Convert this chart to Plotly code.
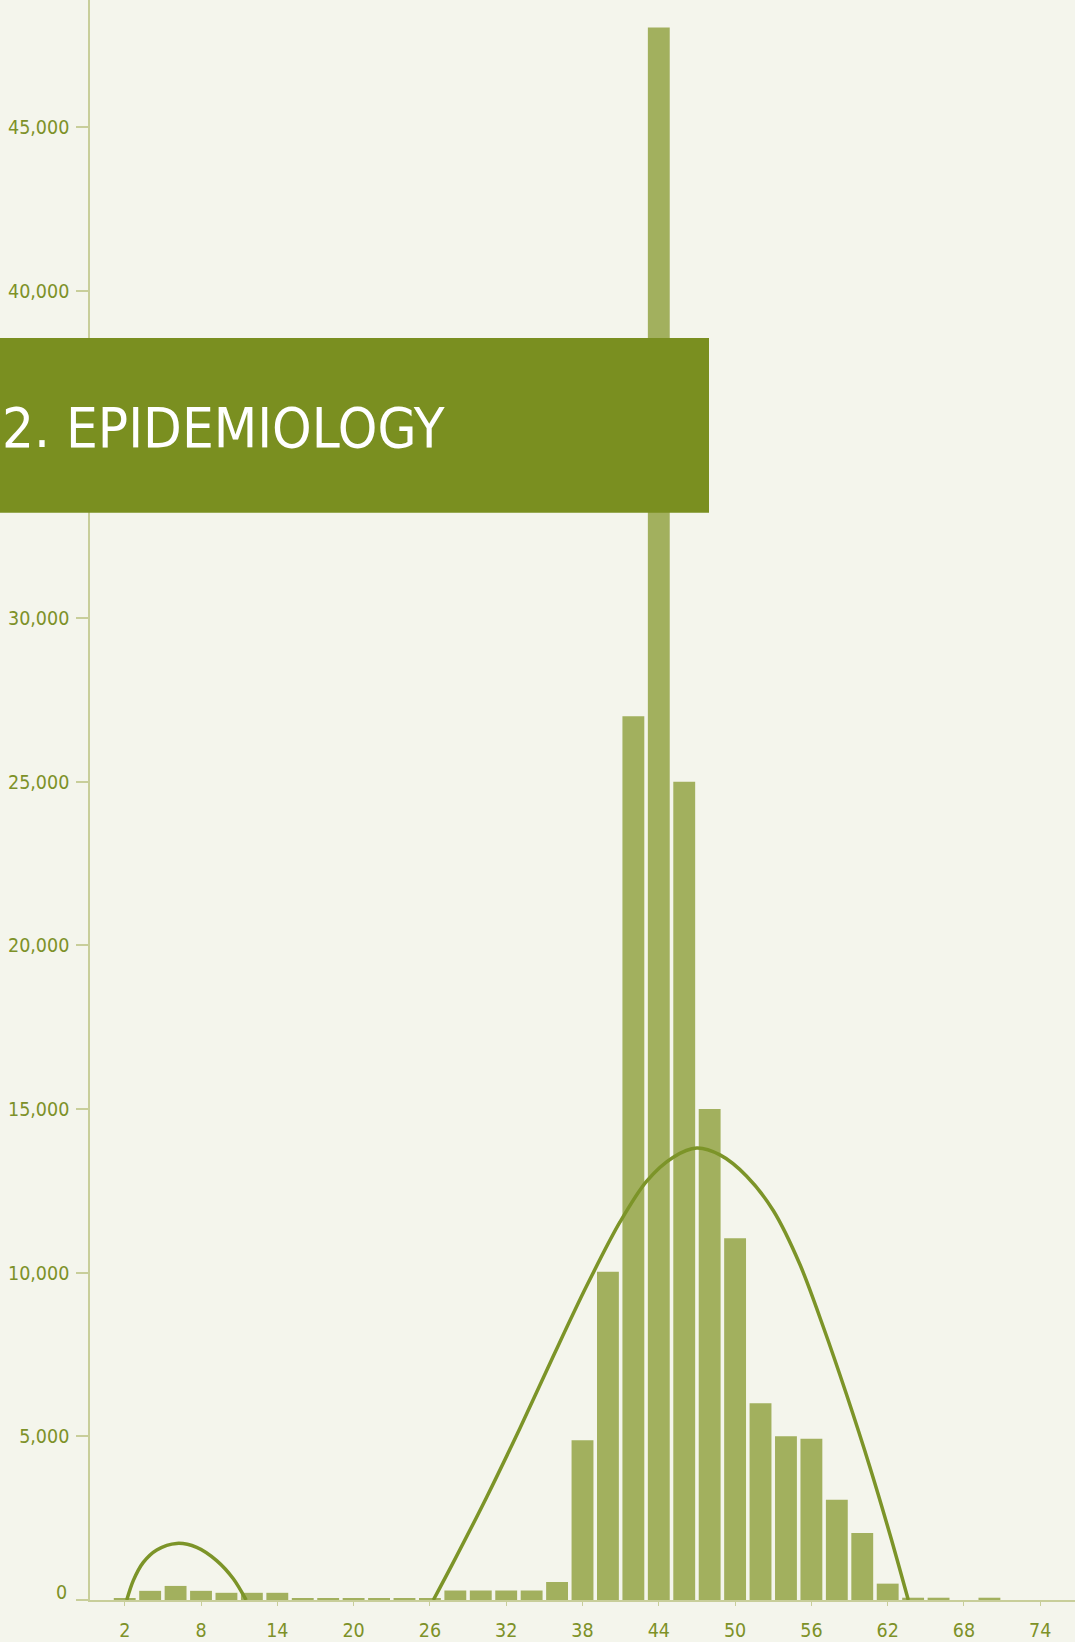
import plotly.graph_objects as go

# ---- data ----
bar_x = [2, 4, 6, 8, 10, 12, 14, 16, 18, 20, 22, 24, 26, 28, 30, 32, 34, 36,
         38, 40, 42, 44, 46, 48, 50, 52, 54, 56, 58, 60, 62, 64, 66, 68, 70]
bar_y = [60, 280, 430, 280, 220, 220, 220, 60, 60, 60, 60, 60, 60, 290, 290, 290, 290, 550,
         4880, 10030, 27000, 48050, 25000, 15000, 11050, 6010, 5000, 4930, 3060, 2050, 500, 70, 70, 0, 70]

curve1_x = [2.16, 2.68, 3.46, 4.52, 6.09, 7.66, 9.23, 10.54, 11.55]
curve1_y = [0, 600, 1150, 1530, 1730, 1610, 1205, 650, 0]

curve2_x = [26.27, 27.84, 30.47, 33.08, 35.70, 38.33, 40.95, 43.05, 45.14, 46.98,
            48.81, 50.91, 53.0, 55.1, 56.93, 58.77, 60.61, 62.18, 63.62]
curve2_y = [0, 1150, 3150, 5250, 7450, 9600, 11550, 12800, 13530, 13810,
            13600, 12950, 11900, 10250, 8350, 6270, 4050, 2000, 0]

x_ticks = [2, 8, 14, 20, 26, 32, 38, 44, 50, 56, 62, 68, 74]
# the 35,000 label is hidden behind the banner in the reference
y_ticks = [0, 5000, 10000, 15000, 20000, 25000, 30000, 40000, 45000]
y_ticktext = ["" if v == 0 else f"{v:,}" for v in y_ticks]

title_text = "2. EPIDEMIOLOGY"

# ---- styles ----
BG = "#f4f5ec"
BAR = "#a2b05e"
LINE = "#7c9428"
AXIS = "#c8ce9a"
LABEL = "#7d9128"
BANNER = "#7a8f20"
TICKFONT = dict(family="Liberation Sans Narrow, DejaVu Sans Condensed, Arial Narrow, sans-serif",
                size=19.5, color=LABEL)

W, H = 1075, 1642
ML, MR, MT, MB = 90, 0, 0, 32
PW, PH = W - ML - MR, H - MT - MB

fig = go.Figure()
fig.add_trace(go.Bar(x=bar_x, y=bar_y, width=1.72, marker=dict(color=BAR, line=dict(width=0)),
                     showlegend=False, hoverinfo="x+y"))
for cx, cy in ((curve1_x, curve1_y), (curve2_x, curve2_y)):
    fig.add_trace(go.Scatter(x=cx, y=cy, mode="lines",
                             line=dict(color=LINE, width=3.5, shape="spline", smoothing=0.9),
                             showlegend=False))

fig.update_layout(
    width=W, height=H,
    margin=dict(l=ML, r=MR, t=MT, b=MB, pad=0),
    paper_bgcolor=BG, plot_bgcolor=BG,
    xaxis=dict(range=[-0.73, 76.73], tickvals=x_ticks, ticktext=[str(v) for v in x_ticks],
               showgrid=False, zeroline=False, showline=True, linecolor=AXIS, linewidth=1.5,
               ticks="outside", ticklen=4, tickcolor=AXIS, tickwidth=1,
               tickfont=TICKFONT, ticklabelstandoff=8),
    yaxis=dict(range=[0, 48888], tickvals=y_ticks, ticktext=y_ticktext,
               showgrid=False, zeroline=False, showline=True, linecolor=AXIS, linewidth=1.5,
               ticks="outside", ticklen=12, tickcolor=AXIS, tickwidth=1.5,
               tickfont=TICKFONT, ticklabelstandoff=3),
    shapes=[dict(type="rect", xref="paper", yref="paper",
                 x0=-ML / PW, x1=(709 - ML) / PW,
                 y0=1 - 516 / PH, y1=1 - 340 / PH,
                 fillcolor=BANNER, line=dict(width=0), layer="above")],
    annotations=[
        dict(text=title_text, xref="paper", yref="paper", x=-ML / PW, y=1 - 430 / PH,
             xanchor="left", yanchor="middle", showarrow=False,
             font=dict(family="DejaVu Sans Condensed, DejaVu Sans Mono, sans-serif", size=56, color="white")),
        dict(text="0", xref="paper", yref="y", x=-21 / PW, y=220,
             xanchor="right", yanchor="middle", showarrow=False, font=TICKFONT),
    ],
)

fig.write_html("out.html", config={"displayModeBar": False},
               post_script="document.body.style.margin='0';document.body.style.overflow='hidden';")
